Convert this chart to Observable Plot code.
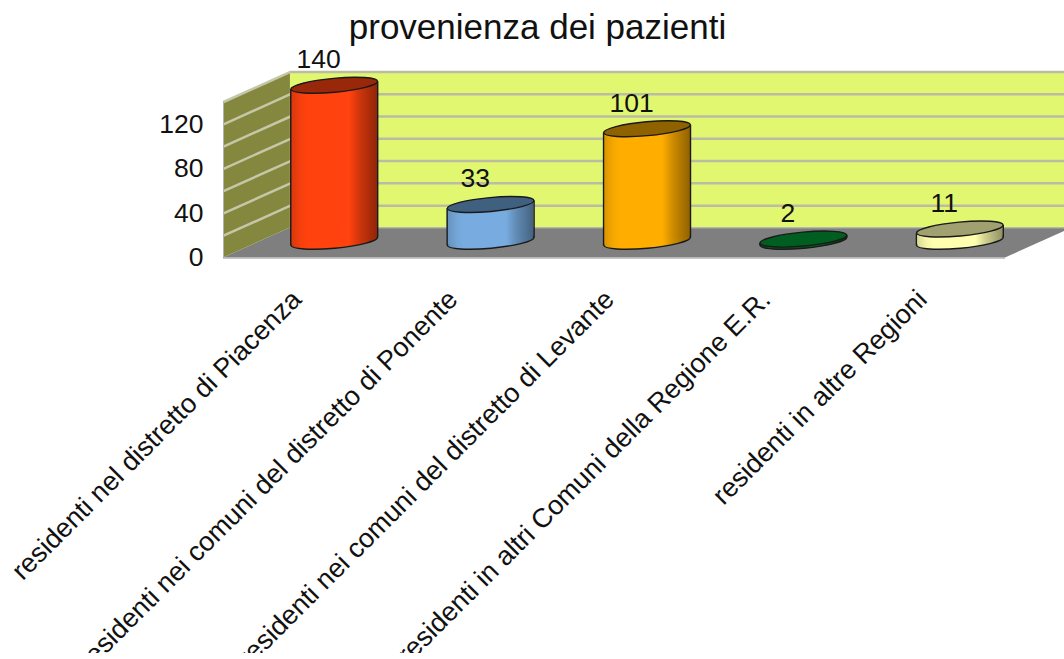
<!DOCTYPE html>
<html>
<head>
<meta charset="utf-8">
<script src="https://cdn.jsdelivr.net/npm/d3@7"></script>
<script src="https://cdn.jsdelivr.net/npm/@observablehq/plot@0.6"></script>
<style>
html,body{margin:0;padding:0;background:#fff;overflow:hidden}
svg{display:block;overflow:hidden}
</style>
</head>
<body>
<div id="chart"></div>
<script>
const chartTitle = "provenienza dei pazienti";
const categories = [
  "residenti nel distretto di Piacenza",
  "residenti nei comuni del distretto di Ponente",
  "residenti nei comuni del distretto di Levante",
  "residenti in altri Comuni della Regione E.R.",
  "residenti in altre Regioni"
];
const values = [140, 33, 101, 2, 11];
const bodyColors = ["#ff420e", "#78ace0", "#ffae00", "#005f20", "#ffffb0"];
const capColors = ["#99280a", "#3f607f", "#8f6200", "#005f20", "#a0a070"];
const axisTicks = [0, 40, 80, 120];
const gridValues = [20, 40, 60, 80, 100, 120, 140];

// Perspective of the 3D box, in data units
const depthX = 0.428, depthY = 27, halfBar = 0.278, tilt = 3.6;
const yMax = 140, slots = categories.length;
const font = "Liberation Sans";
const ink = "#111";

const ellipse = {
  draw(ctx, size) {
    const a = Math.sqrt(size / Math.PI), b = a * 0.16, t = -0.092;
    const k = 0.5523, c = Math.cos(t), s = Math.sin(t);
    const P = (x, y) => [x * c - y * s, x * s + y * c];
    const B = (p) => ctx.bezierCurveTo(...P(p[0], p[1]), ...P(p[2], p[3]), ...P(p[4], p[5]));
    ctx.moveTo(...P(a, 0));
    B([a, k * b, k * a, b, 0, b]);
    B([-k * a, b, -a, k * b, -a, 0]);
    B([-a, -k * b, -k * a, -b, 0, -b]);
    B([k * a, -b, a, -k * b, a, 0]);
    ctx.closePath();
  }
};

const gradients = () => {
  const defs = d3.create("svg:defs");
  bodyColors.forEach((col, i) => {
    const g = defs.append("linearGradient").attr("id", `body${i}`)
      .attr("x1", 0).attr("x2", 1).attr("y1", 0).attr("y2", 0);
    const dim = (f) => d3.rgb(col).darker(f).formatHex();
    [[0, dim(0.5)], [0.12, dim(0.1)], [0.2, col], [0.68, col], [0.8, dim(0.6)], [1, dim(1.6)]].forEach(([o, c]) =>
      g.append("stop").attr("offset", o).attr("stop-color", c));
  });
  return defs.node();
};

const mid = (i) => i + 0.494 + depthX / 2;
const base = depthY / 2 + 1.5;

const barMarks = values.flatMap((v, i) => {
  const xc = mid(i);
  const sides = [
    {x: xc - halfBar, y1: base - tilt, y2: base - tilt + v},
    {x: xc + halfBar, y1: base + tilt, y2: base + tilt + v}
  ];
  return [
    Plot.dot([i], {x: () => xc, y: () => base, r: 43.5, symbol: ellipse, fill: `url(#body${i})`, stroke: "#1a1a1a", strokeWidth: 1.4}),
    Plot.areaY(sides, {x: "x", y1: "y1", y2: "y2", fill: `url(#body${i})`}),
    Plot.link(sides, {x1: "x", x2: "x", y1: "y1", y2: "y2", stroke: "#1a1a1a", strokeWidth: 1.4}),
    Plot.dot([i], {x: () => xc, y: () => base + v, r: 43.5, symbol: ellipse, fill: capColors[i], stroke: "#1a1a1a", strokeWidth: 1.4})
  ];
});

const floorPts = [
  {x: 0, y1: 0, y2: 0},
  {x: depthX, y1: 0, y2: depthY},
  {x: slots, y1: 0, y2: depthY},
  {x: slots + depthX, y1: depthY, y2: depthY}
];
const sidePts = [
  {x: 0, y1: 0, y2: yMax},
  {x: depthX, y1: depthY, y2: yMax + depthY}
];

const chart = Plot.plot({
  width: 1064,
  height: 653,
  marginLeft: 223,
  marginRight: 59,
  marginTop: 101.5,
  marginBottom: 395.5,
  style: {background: "#fff", fontFamily: font},
  x: {domain: [0, slots], axis: null},
  y: {domain: [0, yMax]},
  marks: [
    gradients,
    Plot.rect([0], {x1: () => depthX, x2: () => slots + depthX, y1: () => depthY, y2: () => yMax + depthY, fill: "#e0f76f"}),
    Plot.ruleY(gridValues, {y: (d) => d + depthY, x1: () => depthX, x2: () => slots + depthX, stroke: "#bcbca4", strokeWidth: 2.5}),
    Plot.areaY(floorPts, {x: "x", y1: "y1", y2: "y2", fill: "#7f7f7f", curve: "linear"}),
    Plot.ruleY([depthY], {x1: () => depthX, x2: () => slots + depthX, stroke: "#b3b3b3", strokeWidth: 1}),
    Plot.ruleY([0], {x1: () => 0, x2: () => slots, stroke: "#b3b3b3", strokeWidth: 1.5}),
    Plot.areaY(sidePts, {x: "x", y1: "y1", y2: "y2", fill: "#84883f", curve: "linear"}),
    Plot.link(gridValues, {x1: () => 0, x2: () => depthX, y1: (d) => d, y2: (d) => d + depthY, stroke: "#c4c8a8", strokeWidth: 2.5}),
    Plot.ruleX([0], {y1: () => 0, y2: () => yMax, stroke: "#b3b3b3", strokeWidth: 1}),
    Plot.axisY({ticks: axisTicks, tickSize: 0, tickPadding: 20, label: null, anchor: "left", fontSize: 26.5, fontFamily: font, fill: ink}),
    ...barMarks,
    Plot.text(values, {
      x: (d, i) => mid(i),
      y: (d) => base + d,
      text: (d) => String(d),
      dx: -15.5, dy: -25.5,
      fontSize: 26.5, fontFamily: font, fill: ink
    }),
    Plot.text(categories, {
      x: (d, i) => i + 0.5,
      y: () => 0,
      text: (d) => d,
      dx: -5, dy: 37,
      rotate: -45,
      textAnchor: "end",
      lineAnchor: "middle",
      fontSize: 27, fontFamily: font, fill: ink
    }),
    Plot.text([chartTitle], {
      frameAnchor: "top",
      text: (d) => d,
      dx: -77, dy: -74.5,
      lineAnchor: "middle",
      fontSize: 35, fontFamily: font, fill: ink
    })
  ]
});
document.getElementById("chart").append(chart);
</script>
</body>
</html>
